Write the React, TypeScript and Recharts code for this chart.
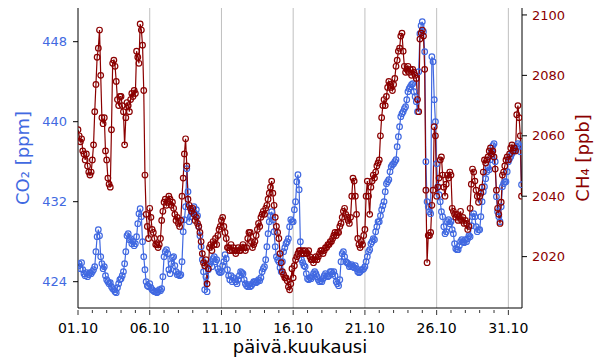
import { ComposedChart, Line, XAxis, YAxis, ReferenceLine, Label } from 'recharts';

// 2-hour readings from 01.10 00:00 onward (12 per day)
const STEP_DAYS = 1 / 12;

const co2Values = [
  425.6, 425.8, 425.3, 425.9, 425.2, 424.8, 424.6, 424.9, 424.5, 424.7, 424.9, 424.8,
  425.0, 425.2, 425.5, 427.0, 428.5, 429.2, 428.6, 426.5, 425.8, 425.3, 425.5, 424.6,
  424.2, 424.0, 423.8, 423.9, 423.5, 423.3, 423.2, 423.0, 422.9, 423.4, 423.8, 424.2,
  424.3, 424.6, 425.0, 425.8, 427.0, 428.6, 428.8, 428.2, 428.3, 427.8, 428.0, 427.6,
  427.8, 428.5, 429.8, 430.8, 431.3, 430.5, 428.0, 426.5, 425.2, 424.0, 423.6, 423.5,
  423.8, 423.4, 423.2, 423.1, 423.0, 423.0, 422.9, 423.0, 423.2, 423.1, 423.3, 424.5,
  426.5, 427.0, 427.2, 426.8, 425.2, 424.8, 425.8, 426.4, 426.5, 425.6, 425.0, 424.7,
  424.8, 424.6, 424.7, 426.0, 429.0, 430.2, 431.5, 435.3, 433.0, 430.0, 430.5, 431.0,
  431.0, 431.5, 430.8, 431.2, 430.6, 429.5, 428.6, 427.5, 426.2, 425.0, 423.2, 424.5,
  423.0, 425.2, 425.8, 426.0, 425.5, 426.3, 426.5, 426.0, 426.2, 425.3, 425.0, 424.9,
  425.0, 425.6, 426.0, 426.7, 426.3, 425.2, 424.6, 424.2, 424.6, 424.0, 424.4, 424.2,
  424.0, 423.8, 424.2, 424.6, 425.0, 424.9, 424.8, 424.2, 423.8, 423.6, 423.5, 423.7,
  423.5, 423.6, 423.8, 424.0, 424.0, 423.9, 424.0, 424.2, 424.1, 424.4, 425.0, 425.3,
  425.5, 426.2, 427.5, 428.8, 430.0, 430.6, 431.0, 430.2, 429.0, 427.5, 426.5, 426.2,
  426.0, 425.4, 425.0, 426.0, 427.0, 427.4, 427.8, 428.0, 428.3, 429.5, 430.2, 430.0,
  430.0, 431.2, 432.0, 434.0, 434.7, 433.2, 428.0, 426.2, 425.9, 425.6, 425.5, 424.8,
  424.3, 424.2, 424.4, 424.3, 424.5, 424.8, 425.0, 424.8, 424.5, 424.2, 424.0, 424.1,
  424.0, 424.3, 424.6, 424.8, 424.6, 424.5, 424.6, 425.0, 425.0, 424.8, 425.0, 424.6,
  424.0, 423.8, 423.6, 424.2, 426.0, 426.8, 427.0, 426.5, 426.0, 425.9, 425.8, 425.5,
  425.6, 425.7, 425.5, 425.4, 425.6, 425.3, 425.0, 424.9, 425.0, 425.2, 425.2, 425.3,
  425.5, 426.0, 426.5, 427.0, 427.2, 427.8, 428.0, 428.3, 428.2, 429.0, 429.5, 430.0,
  430.0, 430.6, 431.2, 431.6, 432.0, 433.0, 433.8, 434.0, 434.2, 435.0, 435.5, 435.7,
  435.8, 436.0, 436.2, 437.5, 438.5, 439.5, 440.5, 440.8, 441.0, 441.3, 441.5, 442.2,
  443.0, 443.3, 443.5, 443.7, 443.8, 443.0, 442.5, 442.0, 441.0, 445.0, 448.8, 449.6,
  450.0, 449.0, 447.0, 436.0, 432.0, 431.5, 431.0, 430.8, 446.5, 446.0, 442.2, 440.0,
  435.8, 433.5, 432.7, 432.0, 431.0, 430.5, 429.5, 428.8, 429.0, 430.0, 430.2, 429.8,
  430.0, 429.2, 428.8, 427.8, 427.3, 427.2, 427.2, 427.6, 428.0, 428.2, 428.0, 427.9,
  428.2, 428.0, 428.3, 428.6, 428.5, 429.6, 430.5, 430.8, 430.5, 429.5, 429.0, 429.2,
  429.2, 430.5, 432.0, 433.0, 433.5, 434.3, 435.0, 435.4, 435.2, 436.2, 437.0, 437.6,
  437.8, 436.0, 432.5, 431.0, 430.5, 430.0, 431.5, 433.5, 433.8, 434.0, 434.0, 435.0,
  436.0, 436.3, 436.5, 436.8, 437.0, 437.2, 437.2, 437.5, 437.8, 437.6, 437.0, 433.7,
];

const ch4Values = [
  2062, 2060, 2058, 2059, 2055, 2054, 2052, 2054, 2050, 2048, 2047, 2048,
  2052, 2057, 2068, 2077, 2086, 2089, 2095, 2080, 2066, 2064, 2066, 2055,
  2052, 2046, 2044, 2043, 2062, 2084, 2085, 2083, 2078, 2072, 2070, 2073,
  2073, 2070, 2068, 2057, 2066, 2071, 2070, 2068, 2072, 2074, 2073, 2075,
  2074, 2088, 2086, 2084, 2097, 2095, 2090, 2075, 2047, 2034, 2030, 2026,
  2036, 2033, 2029, 2028, 2026, 2024, 2024, 2023, 2024, 2026, 2032, 2035,
  2038, 2039, 2037, 2038, 2040, 2039, 2037, 2038, 2036, 2034, 2032, 2033,
  2031, 2030, 2032, 2040, 2046, 2054, 2059, 2050, 2039, 2037, 2036, 2035,
  2036, 2034, 2032, 2033, 2031, 2030, 2028, 2025, 2021, 2018, 2017, 2019,
  2011, 2016, 2023, 2024, 2022, 2025, 2024, 2026, 2024, 2027, 2029, 2030,
  2032, 2033, 2030, 2028, 2026, 2023, 2023, 2022, 2024, 2022, 2023, 2022,
  2021, 2022, 2023, 2022, 2022, 2023, 2024, 2023, 2022, 2023, 2026, 2028,
  2028, 2025, 2023, 2024, 2025, 2027, 2029, 2031, 2030, 2033, 2034, 2035,
  2034, 2036, 2037, 2039, 2041, 2043, 2045, 2041, 2037, 2033, 2030, 2028,
  2026, 2021, 2018, 2015, 2014, 2013, 2013, 2012, 2010, 2009, 2011, 2016,
  2013, 2017, 2019, 2020, 2021, 2022, 2022, 2021, 2022, 2021, 2022, 2021,
  2021, 2022, 2020, 2019, 2019, 2018, 2019, 2020, 2019, 2020, 2021, 2022,
  2022, 2021, 2022, 2023, 2023, 2024, 2024, 2025, 2025, 2026, 2027, 2028,
  2027, 2028, 2028, 2030, 2031, 2033, 2035, 2036, 2034, 2033, 2032, 2031,
  2033, 2040, 2046, 2045, 2040, 2034, 2026, 2024, 2023, 2025, 2024, 2027,
  2029, 2040, 2045, 2040, 2034, 2043, 2045, 2047, 2046, 2048, 2050, 2051,
  2052, 2060, 2066, 2070, 2072, 2070, 2073, 2076, 2078, 2077, 2076, 2075,
  2077, 2079, 2083, 2085, 2088, 2089, 2093, 2094, 2088, 2083, 2081, 2082,
  2083, 2081, 2082, 2080, 2082, 2081, 2080, 2079, 2072, 2068, 2092, 2094,
  2095, 2093, 2082, 2042, 2018, 2027, 2027, 2028, 2037, 2042, 2063, 2060,
  2040, 2043, 2046, 2052, 2053, 2047, 2043, 2040, 2044, 2047, 2046, 2048,
  2047, 2036, 2035, 2034, 2033, 2034, 2032, 2033, 2035, 2032, 2033, 2031,
  2032, 2031, 2029, 2030, 2036, 2044, 2049, 2048, 2045, 2042, 2040, 2038,
  2040, 2041, 2043, 2048, 2052, 2051, 2052, 2053, 2055, 2056, 2054, 2055,
  2053, 2049, 2042, 2036, 2034, 2031, 2038, 2047, 2048, 2050, 2052, 2053,
  2052, 2054, 2056, 2057, 2055, 2056, 2055, 2067, 2070, 2066, 2060, 2040,
];

const dayTicks = Array.from({ length: 31 }, (_, i) => i);
const majorTickLabels = ['01.10', '06.10', '11.10', '16.10', '21.10', '26.10', '31.10'];
const gridDays = [5, 10, 15, 20, 25, 30];
const co2Ticks = [424, 432, 440, 448];
const ch4Ticks = [2020, 2040, 2060, 2080, 2100];

const CO2_COLOR = '#4169E1';
const CH4_COLOR = '#8B0000';
const FONT = "'DejaVu Sans', sans-serif";

const data = co2Values.map((co2, i) => ({ t: i * STEP_DAYS, co2, ch4: ch4Values[i] }));

function DayTick(props: any) {
  const { x, y, payload } = props;
  const d = payload.value;
  const major = d % 5 === 0;
  return (
    <g>
      <line x1={x} x2={x} y1={y} y2={y + (major ? 5 : 3)} stroke="#000" strokeWidth={0.8} />
      {major && (
        <text x={x} y={y + 13} dy="0.71em" textAnchor="middle" fontSize={14} fontFamily={FONT} fill="#000">
          {majorTickLabels[d / 5]}
        </text>
      )}
    </g>
  );
}

function sideLabel(text: string, color: string, side: 'left' | 'right') {
  return (props: any) => {
    const vb = props.viewBox;
    const cx = side === 'left' ? 22.5 : 582;
    const cy = vb.y + vb.height / 2;
    return (
      <text
        x={cx}
        y={cy}
        transform={`rotate(-90 ${cx} ${cy})`}
        textAnchor="middle"
        dominantBaseline="central"
        fontSize={18}
        fontFamily={FONT}
        fill={color}
      >
        {text}
      </text>
    );
  };
}

function bottomLabel(props: any) {
  const vb = props.viewBox;
  return (
    <text x={vb.x + vb.width / 2} y={vb.y + 45} textAnchor="middle" fontSize={18} fontFamily={FONT} fill="#000">
      päivä.kuukausi
    </text>
  );
}

export default function App() {
  return (
    <div style={{ position: 'absolute', left: 0, top: 0, width: 600, height: 360, background: '#fff' }}>
      <ComposedChart width={600} height={360} data={data} margin={{ top: 8, right: 18, left: 18, bottom: 8 }}>
        <XAxis
          dataKey="t"
          type="number"
          domain={[0, 30.95]}
          ticks={dayTicks}
          interval={0}
          tickSize={0}
          tickLine={false}
          tick={<DayTick />}
          axisLine={{ stroke: '#000', strokeWidth: 1 }}
          height={44}
          allowDataOverflow
        >
          <Label content={bottomLabel} />
        </XAxis>
        <XAxis
          xAxisId="top"
          orientation="top"
          type="number"
          domain={[0, 30.95]}
          height={0}
          tick={false}
          tickLine={false}
          axisLine={{ stroke: '#000', strokeWidth: 1 }}
        />
        <YAxis
          yAxisId="co2"
          orientation="left"
          width={60}
          domain={[421.37, 451.37]}
          ticks={co2Ticks}
          allowDataOverflow
          tickSize={5}
          tickMargin={6}
          tickLine={{ stroke: '#000' }}
          axisLine={{ stroke: '#000' }}
          tick={{ fill: CO2_COLOR, fontSize: 13, fontFamily: FONT }}
        >
          <Label content={sideLabel('CO₂ [ppm]', CO2_COLOR, 'left')} />
        </YAxis>
        <YAxis
          yAxisId="ch4"
          orientation="right"
          width={60}
          domain={[2003, 2102.3]}
          ticks={ch4Ticks}
          allowDataOverflow
          tickSize={5}
          tickMargin={5}
          tickLine={{ stroke: '#000' }}
          axisLine={{ stroke: '#000' }}
          tick={{ fill: CH4_COLOR, fontSize: 13, fontFamily: FONT }}
        >
          <Label content={sideLabel('CH₄ [ppb]', CH4_COLOR, 'right')} />
        </YAxis>
        {gridDays.map((d) => (
          <ReferenceLine key={d} x={d} yAxisId="co2" stroke="#b0b0b0" strokeWidth={0.8} />
        ))}
        <Line
          yAxisId="co2"
          dataKey="co2"
          type="linear"
          stroke={CO2_COLOR}
          strokeWidth={1.2}
          dot={{ r: 2.8, fill: 'none', stroke: CO2_COLOR, strokeWidth: 1.2 }}
          isAnimationActive={false}
        />
        <Line
          yAxisId="ch4"
          dataKey="ch4"
          type="linear"
          stroke={CH4_COLOR}
          strokeWidth={1.2}
          dot={{ r: 2.8, fill: 'none', stroke: CH4_COLOR, strokeWidth: 1.2 }}
          isAnimationActive={false}
        />
      </ComposedChart>
    </div>
  );
}
